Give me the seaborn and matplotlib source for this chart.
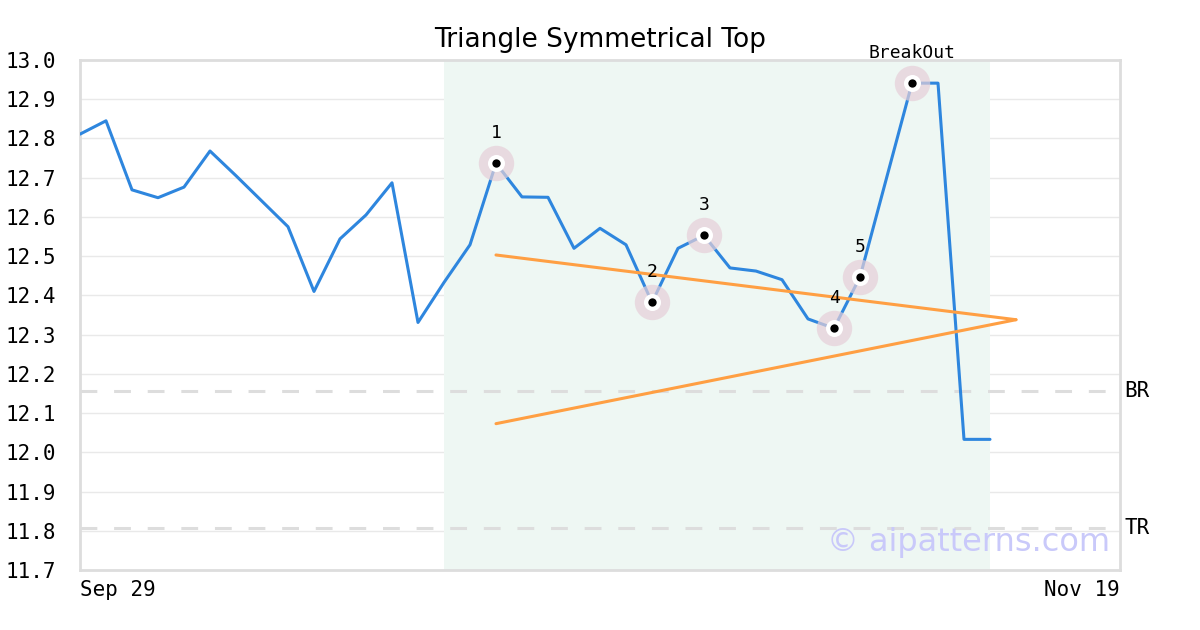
import matplotlib
matplotlib.use("Agg")
import matplotlib.pyplot as plt
import seaborn as sns
import pandas as pd
import numpy as np

# ---- data ----
prices = [12.811, 12.845, 12.669, 12.649, 12.676, 12.768, 12.705, 12.640, 12.575,
          12.410, 12.544, 12.605, 12.687, 12.331, 12.433, 12.529, 12.737, 12.651,
          12.650, 12.520, 12.571, 12.529, 12.382, 12.520, 12.553, 12.470, 12.462,
          12.440, 12.340, 12.316, 12.447, 12.694, 12.941, 12.941, 12.033, 12.033]
point_idx = [16, 22, 24, 29, 30, 32]
point_labels = ["1", "2", "3", "4", "5", "BreakOut"]
upper_line_x = [16, 36]
upper_line_y = [12.503, 12.338]
lower_line_x = [16, 36]
lower_line_y = [12.073, 12.338]
shade_range = [14, 35]
br_level = 12.157
tr_level = 11.808
y_ticks = [11.7, 11.8, 11.9, 12.0, 12.1, 12.2, 12.3, 12.4, 12.5, 12.6, 12.7, 12.8, 12.9, 13.0]
x_tick_labels = ["Sep 29", "Nov 19"]
x_max = 40

df = pd.DataFrame({"idx": np.arange(len(prices)), "price": prices})

sns.set_theme(style="white")
mono = "DejaVu Sans Mono"
fig = plt.figure(figsize=(12, 6.3), dpi=100)
ax = fig.add_axes([80 / 1200, 60 / 630, 1040 / 1200, 510 / 630])

ax.set_xlim(0, x_max)
ax.set_ylim(11.7, 13.0)

# grid
for yv in y_ticks[1:-1]:
    ax.axhline(yv, color="#e9e9e9", lw=1.0, zorder=0)

# shaded region
ax.axvspan(shade_range[0], shade_range[1], color="#eef7f3", zorder=0.5, lw=0)

# BR / TR dashed
for lvl in (br_level, tr_level):
    ax.axhline(lvl, color="#dddddd", lw=2.2, dashes=(5.5, 5.5), zorder=1)

# price line
sns.lineplot(data=df, x="idx", y="price", ax=ax, color="#2e86de", lw=2.2, zorder=3,
             legend=False)

# triangle lines
sns.lineplot(x=upper_line_x, y=upper_line_y, ax=ax, color="#ff9f43", lw=2.2, zorder=4)
sns.lineplot(x=lower_line_x, y=lower_line_y, ax=ax, color="#ff9f43", lw=2.2, zorder=4)

# highlighted points
px = [i for i in point_idx]
py = [prices[i] for i in point_idx]
ax.scatter(px, py, s=650, color="#e6cfd8", alpha=0.7, lw=0, zorder=5)
ax.scatter(px, py, s=150, color="white", lw=0, zorder=6)
ax.scatter(px, py, s=36, color="black", lw=0, zorder=7)
for x, y, lab in zip(px, py, point_labels):
    ax.annotate(lab, (x, y), xytext=(0, 30), textcoords="offset pixels",
                ha="center", va="center", fontsize=13, family=mono, color="black",
                zorder=8)

# watermark
fig.text(1110 / 1200, 1 - 542 / 630, "© aipatterns.com", ha="right", va="center",
         fontsize=23, color="#c9c9fa", family="DejaVu Sans", zorder=10)

# BR / TR labels
ax.text(1.004, br_level, "BR", transform=ax.get_yaxis_transform(), ha="left",
        va="center", fontsize=15, family=mono, color="black")
ax.text(1.004, tr_level, "TR", transform=ax.get_yaxis_transform(), ha="left",
        va="center", fontsize=15, family=mono, color="black")

# ticks
ax.set_yticks(y_ticks)
ax.set_yticklabels([f"{v:.1f}" for v in y_ticks], family=mono, fontsize=15, color="black")
ax.set_xticks([0, x_max])
xl = ax.set_xticklabels(x_tick_labels, family=mono, fontsize=15, color="black")
xl[0].set_ha("left")
xl[1].set_ha("right")
ax.tick_params(axis="y", length=0, pad=17, labelcolor="black")
ax.tick_params(axis="x", length=0, pad=7, labelcolor="black")
ax.set_xlabel("")
ax.set_ylabel("")

for sp in ax.spines.values():
    sp.set_color("#dddddd")
    sp.set_linewidth(2)
    sp.set_visible(True)

fig.text(0.5, 1 - 40 / 630, "Triangle Symmetrical Top", ha="center", va="center",
         fontsize=19, family="DejaVu Sans", color="black")

fig.savefig("out.png", dpi=100)
